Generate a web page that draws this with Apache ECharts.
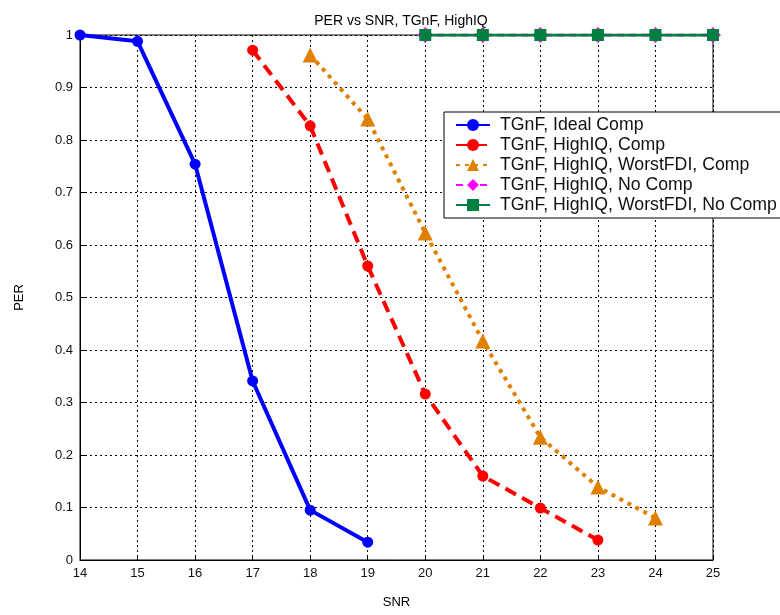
<!DOCTYPE html>
<html>
<head>
<meta charset="utf-8">
<script src="https://cdn.jsdelivr.net/npm/echarts@6/dist/echarts.min.js"></script>
<style>
  html, body { margin: 0; padding: 0; background: #fff; }
  #chart { width: 780px; height: 615px; }
</style>
</head>
<body>
<div id="chart"></div>
<script>
// SNR sweep (dB) and packet error rates per configuration
const snrIdeal = [14, 15, 16, 17, 18, 19];
const perIdeal = [1.0, 0.988, 0.754, 0.341, 0.095, 0.034];

const snrHighIQ = [17, 18, 19, 20, 21, 22, 23];
const perHighIQ = [0.971, 0.827, 0.560, 0.316, 0.160, 0.099, 0.038];

const snrWorstComp = [18, 19, 20, 21, 22, 23, 24];
const perWorstComp = [0.962, 0.840, 0.623, 0.417, 0.234, 0.139, 0.080];

const snrNoComp = [20, 21, 22, 23, 24, 25];
const perNoComp = [1, 1, 1, 1, 1, 1];

const snrWorstNoComp = [20, 21, 22, 23, 24, 25];
const perWorstNoComp = [1, 1, 1, 1, 1, 1];

const seriesNames = [
  'TGnF, Ideal Comp',
  'TGnF, HighIQ, Comp',
  'TGnF, HighIQ, WorstFDI, Comp',
  'TGnF, HighIQ, No Comp',
  'TGnF, HighIQ, WorstFDI, No Comp'
];

const pairs = (xs, ys) => xs.map((x, i) => [x, ys[i]]);

const font = 'Arial, "Liberation Sans", sans-serif';
const chart = echarts.init(document.getElementById('chart'), null, { renderer: 'canvas' });

chart.setOption({
  animation: false,
  backgroundColor: '#fff',
  title: {
    text: 'PER vs SNR, TGnF, HighIQ',
    left: 396, top: 9, textAlign: 'center',
    textStyle: { fontFamily: font, fontSize: 14, fontWeight: 'normal', color: '#000' }
  },
  grid: {
    left: 80, right: 67, top: 35, bottom: 55,
    show: true, borderColor: '#000', borderWidth: 1, backgroundColor: '#fff'
  },
  legend: {
    left: 444, top: 112,
    orient: 'vertical',
    itemWidth: 34, itemHeight: 15, itemGap: 0,
    padding: [3, 8, 3, 11],
    backgroundColor: '#fff',
    borderColor: '#000', borderWidth: 1,
    textStyle: { fontFamily: font, fontSize: 17.7, lineHeight: 20, color: '#111', padding: [0, 0, 0, 5] },
    data: seriesNames
  },
  xAxis: {
    type: 'value', min: 14, max: 25, interval: 1,
    name: 'SNR', nameLocation: 'middle', nameGap: 36,
    nameTextStyle: { fontFamily: font, fontSize: 13, color: '#000' },
    axisLine: { show: true, onZero: false, lineStyle: { color: '#000', width: 1 } },
    axisTick: { show: true, inside: true, length: 5, lineStyle: { color: '#000' } },
    axisLabel: { fontFamily: font, fontSize: 13, color: '#111', margin: 7 },
    splitLine: { show: true, lineStyle: { color: '#000', type: [2, 3], width: 1 } }
  },
  yAxis: {
    type: 'value', min: 0, max: 1, interval: 0.1,
    name: 'PER', nameLocation: 'middle', nameGap: 54,
    nameTextStyle: { fontFamily: font, fontSize: 13, color: '#000' },
    axisLine: { show: true, lineStyle: { color: '#000', width: 1 } },
    axisTick: { show: true, inside: true, length: 5, lineStyle: { color: '#000' } },
    axisLabel: {
      fontFamily: font, fontSize: 13, color: '#111', margin: 7,
      formatter: v => (Math.round(v * 10) / 10).toString()
    },
    splitLine: { show: true, lineStyle: { color: '#000', type: [2, 3], width: 1 } }
  },
  series: [
    {
      name: seriesNames[0], type: 'line', data: pairs(snrIdeal, perIdeal),
      symbol: 'circle', symbolSize: 11,
      lineStyle: { color: '#0000ff', width: 4, type: 'solid' },
      itemStyle: { color: '#0000ff' }, z: 5
    },
    {
      name: seriesNames[1], type: 'line', data: pairs(snrHighIQ, perHighIQ),
      symbol: 'circle', symbolSize: 11,
      lineStyle: { color: '#ff0000', width: 4, type: [12, 7] },
      itemStyle: { color: '#ff0000' }, z: 5
    },
    {
      name: seriesNames[2], type: 'line', data: pairs(snrWorstComp, perWorstComp),
      symbol: 'triangle', symbolSize: 15,
      lineStyle: { color: '#e08000', width: 4, type: [4, 5] },
      itemStyle: { color: '#e08000' }, z: 4
    },
    {
      name: seriesNames[3], type: 'line', data: pairs(snrNoComp, perNoComp),
      symbol: 'diamond', symbolSize: 16,
      lineStyle: { color: '#ff00ff', width: 3, type: [7, 5] },
      itemStyle: { color: '#ff00ff' }, z: 6
    },
    {
      name: seriesNames[4], type: 'line', data: pairs(snrWorstNoComp, perWorstNoComp),
      symbol: 'rect', symbolSize: 12,
      lineStyle: { color: '#008040', width: 3, type: 'solid' },
      itemStyle: { color: '#008040' }, z: 7
    }
  ]
});
</script>
</body>
</html>
